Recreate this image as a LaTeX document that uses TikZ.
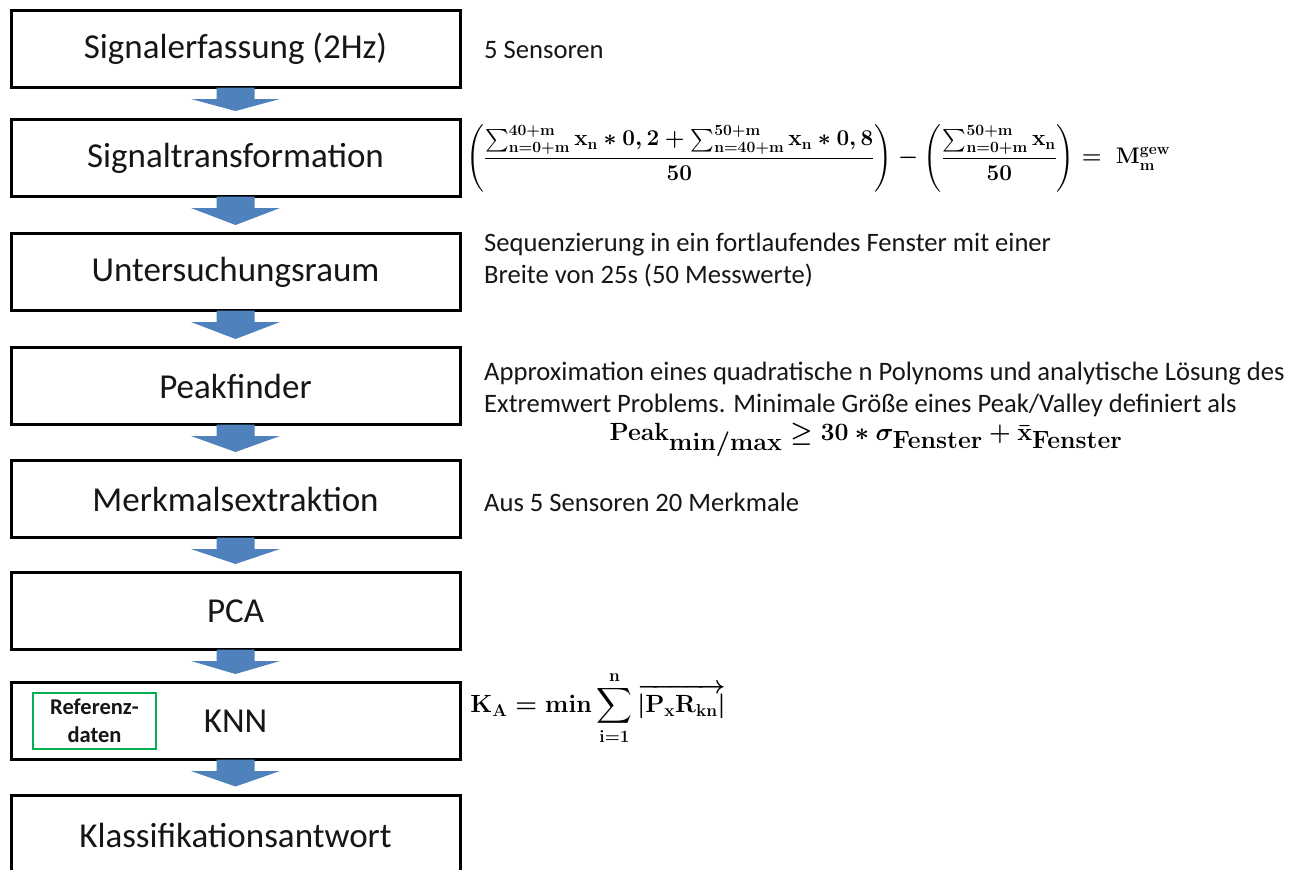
\documentclass[tikz,border=0pt]{standalone}
\usepackage{amsmath,bm,graphicx}
\usepackage[no-math]{fontspec}
\setmainfont{Carlito}
\usetikzlibrary{calc}
\definecolor{arrowblue}{RGB}{79,129,189}
\definecolor{refgreen}{RGB}{0,176,80}
\definecolor{ink}{RGB}{22,22,22}

\tikzset{
  stepbox/.style={draw=black, line width=3pt, minimum width=449pt,
    minimum height=77pt, inner sep=0pt, text=ink,
    font=\fontsize{35}{42}\selectfont},
  side/.style={anchor=west, inner sep=0pt, align=left, text=ink,
    font=\fontsize{26.6}{32}\selectfont},
  formula/.style={inner sep=0pt, text=ink},
  refbox/.style={draw=refgreen, line width=2.5pt, minimum width=123pt,
    minimum height=56pt, inner sep=0pt, align=center, text=ink,
    font=\bfseries\fontsize{22.5}{28}\selectfont},
}

\newsavebox\gewbox
\newsavebox\peakbox
\newsavebox\knnbox

% block arrow from the bottom edge of one step to the top edge of the next
\newcommand\flowarrow[2]{%
  \fill[arrowblue]
    ($(#1.south)+(-19,-1.5)$) -- ($(#1.south)+(19,-1.5)$)
    -- ($(#1.south)+(19,10)$) -- ($(#1.south)+(44.5,10)$)
    -- ($(#2.north)+(0,-7)$)
    -- ($(#1.south)+(-44.5,10)$) -- ($(#1.south)+(-19,10)$) -- cycle;}

\begin{document}
% weighted moving-average formula
\sbox\gewbox{\resizebox{704pt}{!}{\fontsize{24.5}{28}\selectfont\boldmath$\displaystyle
  \left(\frac{\sum_{\mathbf{n=0+m}}^{\mathbf{40+m}}\mathbf{x_n}*\mathbf{0,2}
   +\sum_{\mathbf{n=40+m}}^{\mathbf{50+m}}\mathbf{x_n}*\mathbf{0,8}}{\mathbf{50}}\right)
  -\left(\frac{\sum_{\mathbf{n=0+m}}^{\mathbf{50+m}}\mathbf{x_n}}{\mathbf{50}}\right)
  =\;\mathbf{M_m^{gew}}$}}
% peak threshold
\sbox\peakbox{\fontsize{33}{36}\selectfont\boldmath$\mathbf{Peak_{min/max}}\geq\mathbf{30}*
  \bm{\sigma}_{\mathbf{Fenster}}+\bar{\mathbf{x}}_{\mathbf{Fenster}}$}
% nearest-neighbour distance
\sbox\knnbox{\fontsize{25.8}{29}\selectfont\boldmath$\displaystyle
  \mathbf{K_A}=\mathbf{min}\sum_{\mathbf{i=1}}^{\mathbf{n}}
  \overrightarrow{|\mathbf{P_xR_{kn}}|}$}
\begin{tikzpicture}[x=1pt, y=-1pt]
\useasboundingbox[fill=white] (0,0) rectangle (1302,870);

% process steps
\node[stepbox] (s1) at (235.5,49)  {Signalerfassung (2Hz)};
\node[stepbox] (s2) at (235.5,158) {Signaltransformation};
\node[stepbox] (s3) at (235.5,272) {Untersuchungsraum};
\node[stepbox] (s4) at (235.5,386) {Peakfinder};
\node[stepbox] (s5) at (235.5,499) {Merkmalsextraktion};
\node[stepbox] (s6) at (235.5,611) {PCA};
\node[stepbox] (s7) at (235.5,721) {KNN};
\node[stepbox, minimum height=80pt] (s8) at (235.5,835) {Klassifikationsantwort};

\node[refbox] (ref) at (94.5,721) {Referenz-\\daten};

\flowarrow{s1}{s2}
\flowarrow{s2}{s3}
\flowarrow{s3}{s4}
\flowarrow{s4}{s5}
\flowarrow{s5}{s6}
\flowarrow{s6}{s7}
\flowarrow{s7}{s8}

% annotations
\node[side] (t1) at (484,50) {5 Sensoren};
\node[formula, anchor=west] (f2) at (466,158) {\usebox\gewbox};
\node[side] (t3) at (484,260) {Sequenzierung in ein fortlaufendes Fenster mit einer\\
  Breite von 25s (50 Messwerte)};
\node[side] (t4) at (484,389) {Approximation eines quadratische n Polynoms und analytische Lösung des\\
  Extremwert Problems. Minimale Größe eines Peak/Valley definiert als};
\node[formula] (f4) at (866,440) {\usebox\peakbox};
\node[side] (t5) at (484,502) {Aus 5 Sensoren 20 Merkmale};
\node[formula] (f7) at (598,708) {\usebox\knnbox};
\end{tikzpicture}
\end{document}
